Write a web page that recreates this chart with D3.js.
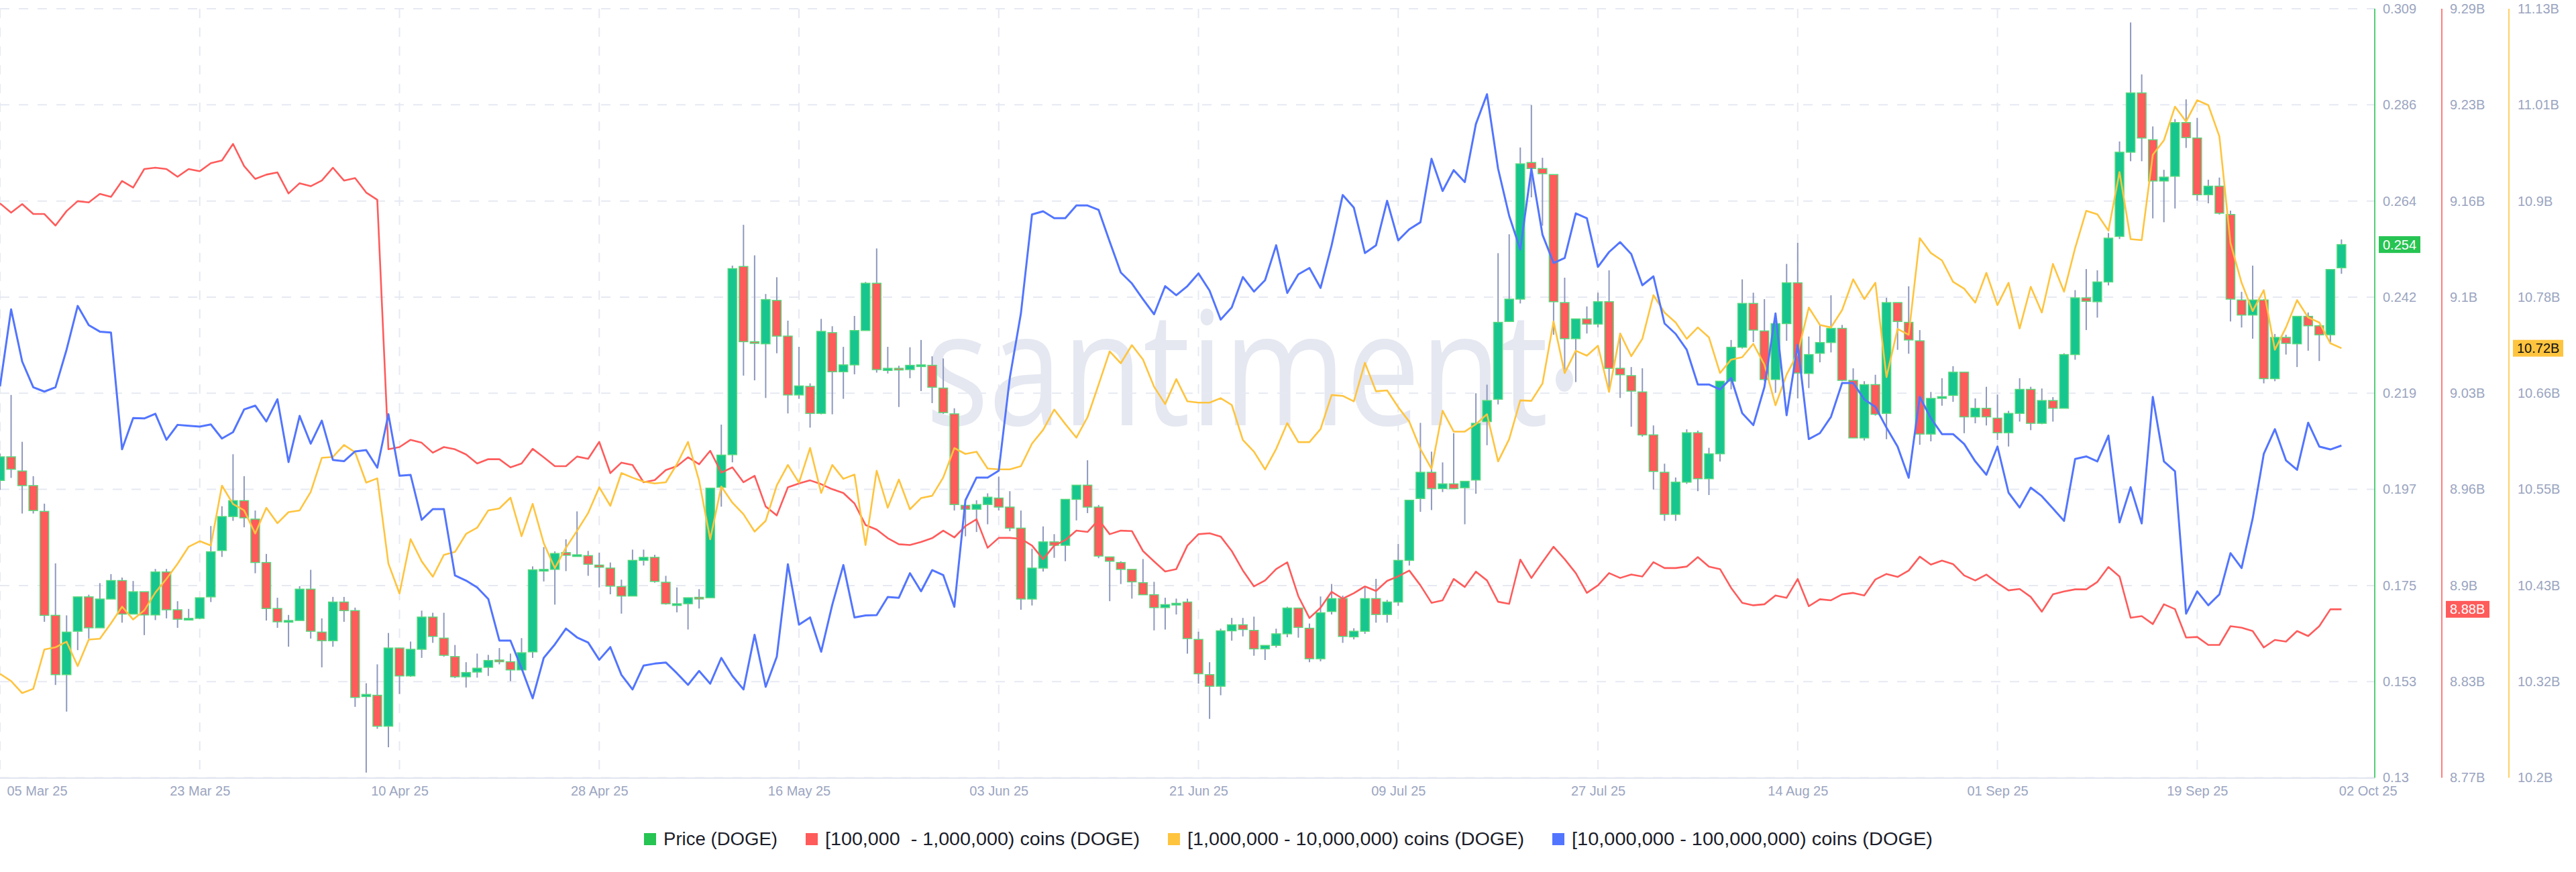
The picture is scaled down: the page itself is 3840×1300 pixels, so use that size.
<!DOCTYPE html>
<html><head><meta charset="utf-8">
<script src="https://cdn.jsdelivr.net/npm/d3@7"></script>
<style>html,body{margin:0;padding:0;background:#fff;} svg{display:block;}</style>
</head><body>
<svg id="chart" width="3840" height="1300"></svg>
<script>
// ---------------- DATA ----------------
const startDate = "2025-03-05"; // one daily candle / point per day from here

const priceOpen = [
0.1992,0.2047,0.2014,0.1980,0.1920,0.1678,0.1540,0.1641,0.1721,0.1649,
0.1716,0.1759,0.1681,0.1733,0.1679,0.1779,0.1691,0.1669,0.1671,0.1721,
0.1829,0.1908,0.1945,0.1902,0.1801,0.1694,0.1663,0.1666,0.1739,0.1639,
0.1619,0.1709,0.1689,0.1489,0.1492,0.1420,0.1602,0.1537,0.1599,0.1674,
0.1625,0.1582,0.1535,0.1546,0.1557,0.1574,0.1570,0.1551,0.1593,0.1784,
0.1785,0.1824,0.1818,0.1817,0.1795,0.1788,0.1745,0.1723,0.1806,0.1813,
0.1755,0.1704,0.1705,0.1720,0.1719,0.1976,0.2052,0.2490,0.2315,0.2310,
0.2411,0.2328,0.2191,0.2211,0.2148,0.2336,0.2245,0.2261,0.2341,0.2451,
0.2248,0.2253,0.2250,0.2260,0.2260,0.2207,0.2147,0.1934,0.1925,0.1936,
0.1951,0.1930,0.1881,0.1716,0.1788,0.1849,0.1841,0.1948,0.1981,0.1930,
0.1814,0.1801,0.1785,0.1754,0.1726,0.1696,0.1705,0.1709,0.1622,0.1540,
0.1513,0.1642,0.1656,0.1643,0.1600,0.1608,0.1635,0.1695,0.1648,0.1577,
0.1687,0.1717,0.1628,0.1641,0.1717,0.1680,0.1709,0.1806,0.1950,0.2011,
0.1973,0.1984,0.1975,0.1993,0.2129,0.2181,0.2362,0.2414,0.2732,0.2718,
0.2704,0.2406,0.2322,0.2368,0.2356,0.2408,0.2253,0.2236,0.2198,0.2098,
0.2011,0.1913,0.1988,0.2103,0.1996,0.2054,0.2223,0.2302,0.2404,0.2340,
0.2227,0.2357,0.2452,0.2241,0.2288,0.2313,0.2346,0.2225,0.2091,0.2215,
0.2148,0.2406,0.2360,0.2317,0.2100,0.2185,0.2190,0.2244,0.2140,0.2160,
0.2137,0.2103,0.2148,0.2204,0.2125,0.2178,0.2160,0.2285,0.2417,0.2408,
0.2454,0.2560,0.2756,0.2894,0.2785,0.2689,0.2700,0.2825,0.2789,0.2657,
0.2677,0.2611,0.2412,0.2377,0.2412,0.2229,0.2325,0.2310,0.2374,0.2352,
0.2331,0.2487];

const priceHigh = [
0.2055,0.2191,0.2082,0.2002,0.1938,0.1799,0.1678,0.1721,0.1726,0.1753,
0.1774,0.1766,0.1758,0.1733,0.1786,0.1786,0.1711,0.1693,0.1719,0.1886,
0.1932,0.2053,0.2002,0.1922,0.1821,0.1719,0.1679,0.1746,0.1784,0.1671,
0.1721,0.1721,0.1696,0.1520,0.1564,0.1637,0.1602,0.1617,0.1689,0.1684,
0.1684,0.1609,0.1569,0.1589,0.1586,0.1602,0.1589,0.1625,0.1792,0.1837,
0.1827,0.1855,0.1920,0.1828,0.1824,0.1801,0.1761,0.1831,0.1831,0.1819,
0.1770,0.1743,0.1719,0.1739,0.1974,0.2122,0.2492,0.2587,0.2516,0.2426,
0.2465,0.2364,0.2303,0.2218,0.2368,0.2351,0.2303,0.2375,0.2454,0.2532,
0.2303,0.2259,0.2302,0.2319,0.2281,0.2276,0.2160,0.1934,0.1946,0.1962,
0.2001,0.1967,0.1922,0.1833,0.1885,0.1867,0.1948,0.1981,0.2039,0.1935,
0.1814,0.1804,0.1785,0.1809,0.1756,0.1719,0.1717,0.1717,0.1640,0.1569,
0.1647,0.1672,0.1672,0.1675,0.1608,0.1647,0.1698,0.1695,0.1659,0.1722,
0.1751,0.1724,0.1648,0.1745,0.1763,0.1714,0.1844,0.1946,0.2126,0.2059,
0.2034,0.2102,0.1990,0.2195,0.2215,0.2521,0.2565,0.2767,0.2866,0.2743,
0.2704,0.2464,0.2368,0.2397,0.2429,0.2481,0.2325,0.2256,0.2253,0.2120,
0.2031,0.1999,0.2111,0.2108,0.2068,0.2223,0.2319,0.2460,0.2429,0.2414,
0.2383,0.2496,0.2545,0.2327,0.2354,0.2423,0.2354,0.2253,0.2223,0.2238,
0.2417,0.2406,0.2444,0.2342,0.2198,0.2230,0.2258,0.2244,0.2183,0.2210,
0.2192,0.2154,0.2230,0.2210,0.2206,0.2186,0.2288,0.2435,0.2484,0.2481,
0.2568,0.2781,0.3058,0.2937,0.2816,0.2715,0.2833,0.2879,0.2836,0.2692,
0.2697,0.2620,0.2431,0.2492,0.2414,0.2333,0.2331,0.2374,0.2383,0.2354,
0.2483,0.2553];

const priceLow = [
0.1970,0.1998,0.1915,0.1915,0.1663,0.1516,0.1454,0.1597,0.1624,0.1649,
0.1716,0.1661,0.1681,0.1632,0.1667,0.1671,0.1649,0.1668,0.1669,0.1709,
0.1814,0.1898,0.1883,0.1776,0.1666,0.1649,0.1605,0.1666,0.1624,0.1557,
0.1605,0.1663,0.1465,0.1312,0.1414,0.1371,0.1495,0.1535,0.1579,0.1614,
0.1582,0.1532,0.1510,0.1533,0.1537,0.1564,0.1525,0.1551,0.1579,0.1757,
0.1703,0.1781,0.1815,0.1770,0.1743,0.1727,0.1682,0.1723,0.1794,0.1754,
0.1703,0.1685,0.1645,0.1694,0.1719,0.1931,0.2034,0.2236,0.2225,0.2184,
0.2288,0.2148,0.2182,0.2115,0.2146,0.2146,0.2182,0.2239,0.2341,0.2243,
0.2241,0.2163,0.2230,0.2200,0.2172,0.2147,0.1922,0.1862,0.1872,0.1890,
0.1922,0.1874,0.1691,0.1701,0.1780,0.1812,0.1804,0.1899,0.1916,0.1811,
0.1711,0.1751,0.1717,0.1726,0.1643,0.1645,0.1680,0.1589,0.1519,0.1437,
0.1492,0.1619,0.1629,0.1584,0.1574,0.1603,0.1627,0.1626,0.1569,0.1571,
0.1680,0.1614,0.1622,0.1635,0.1661,0.1661,0.1700,0.1794,0.1919,0.1923,
0.1965,0.1973,0.1890,0.1961,0.2074,0.2169,0.2362,0.2404,0.2651,0.2585,
0.2331,0.2250,0.2221,0.2334,0.2348,0.2198,0.2184,0.2117,0.2094,0.1971,
0.1898,0.1898,0.1984,0.1967,0.1958,0.2036,0.2204,0.2299,0.2314,0.2223,
0.2196,0.2317,0.2183,0.2207,0.2267,0.2290,0.2223,0.2091,0.2085,0.2143,
0.2088,0.2296,0.2287,0.2075,0.2083,0.2166,0.2175,0.2102,0.2125,0.2120,
0.2086,0.2071,0.2129,0.2109,0.2123,0.2129,0.2160,0.2273,0.2342,0.2371,
0.2446,0.2554,0.2735,0.2735,0.2602,0.2593,0.2625,0.2766,0.2643,0.2637,
0.2611,0.2362,0.2348,0.2322,0.2218,0.2223,0.2285,0.2256,0.2294,0.2270,
0.2314,0.2473];

const priceClose = [
0.2047,0.2018,0.1980,0.1922,0.1678,0.1540,0.1639,0.1721,0.1649,0.1716,
0.1759,0.1681,0.1733,0.1679,0.1779,0.1691,0.1669,0.1671,0.1719,0.1826,
0.1908,0.1945,0.1905,0.1801,0.1694,0.1663,0.1666,0.1739,0.1641,0.1619,
0.1709,0.1689,0.1487,0.1494,0.1420,0.1602,0.1537,0.1599,0.1674,0.1629,
0.1585,0.1535,0.1545,0.1555,0.1573,0.1572,0.1551,0.1591,0.1784,0.1785,
0.1822,0.1818,0.1819,0.1797,0.1790,0.1746,0.1723,0.1806,0.1813,0.1757,
0.1705,0.1705,0.1719,0.1718,0.1974,0.2051,0.2485,0.2315,0.2312,0.2413,
0.2328,0.2191,0.2212,0.2148,0.2339,0.2245,0.2261,0.2341,0.2451,0.2250,
0.2253,0.2252,0.2260,0.2261,0.2209,0.2150,0.1936,0.1925,0.1936,0.1953,
0.1930,0.1881,0.1716,0.1788,0.1849,0.1841,0.1948,0.1981,0.1930,0.1816,
0.1804,0.1785,0.1756,0.1726,0.1696,0.1703,0.1706,0.1624,0.1542,0.1513,
0.1642,0.1656,0.1645,0.1600,0.1608,0.1635,0.1695,0.1650,0.1577,0.1684,
0.1717,0.1629,0.1641,0.1717,0.1680,0.1709,0.1806,0.1946,0.2011,0.1973,
0.1984,0.1973,0.1990,0.2125,0.2178,0.2360,0.2414,0.2729,0.2718,0.2706,
0.2408,0.2322,0.2368,0.2356,0.2408,0.2253,0.2238,0.2200,0.2098,0.2013,
0.1913,0.1988,0.2103,0.1996,0.2054,0.2223,0.2302,0.2404,0.2342,0.2227,
0.2357,0.2452,0.2242,0.2285,0.2313,0.2346,0.2225,0.2091,0.2215,0.2146,
0.2406,0.2362,0.2319,0.2100,0.2183,0.2187,0.2244,0.2140,0.2160,0.2140,
0.2103,0.2148,0.2204,0.2125,0.2178,0.2160,0.2285,0.2417,0.2409,0.2454,
0.2556,0.2756,0.2894,0.2789,0.2689,0.2698,0.2825,0.2790,0.2657,0.2677,
0.2614,0.2414,0.2377,0.2412,0.2229,0.2325,0.2311,0.2374,0.2352,0.2331,
0.2483,0.2541];

// [100,000 - 1,000,000) coins supply, billions
const holders100k = [
9.1584,9.1521,9.1579,9.1512,9.1512,9.1434,9.1532,9.1599,9.1590,9.1648,
9.1628,9.1735,9.1691,9.1816,9.1825,9.1816,9.1764,9.1816,9.1801,9.1856,
9.1874,9.1986,9.1836,9.1749,9.1778,9.1793,9.1651,9.1720,9.1700,9.1738,
9.1825,9.1738,9.1755,9.1657,9.1608,8.9921,8.9936,8.9985,8.9965,8.9898,
8.9936,8.9921,8.9886,8.9825,8.9854,8.9854,8.9799,8.9825,8.9924,8.9867,
8.9807,8.9807,8.9872,8.9857,8.9971,8.9760,8.9831,8.9815,8.9698,8.9713,
8.9781,8.9807,8.9867,8.9820,8.9911,8.9763,8.9799,8.9698,8.9742,8.9534,
8.9474,8.9664,8.9690,8.9711,8.9685,8.9651,8.9625,8.9555,8.9409,8.9378,
8.9320,8.9279,8.9274,8.9294,8.9320,8.9371,8.9325,8.9402,8.9448,8.9255,
8.9322,8.9322,8.9316,8.9270,8.9178,8.9270,8.9307,8.9371,8.9362,8.9445,
8.9347,8.9371,8.9368,8.9233,8.9163,8.9095,8.9111,8.9270,8.9347,8.9353,
8.9331,8.9233,8.9102,8.8994,8.9034,8.9111,8.9157,8.8927,8.8780,8.8850,
8.8957,8.8911,8.8948,8.8994,8.8963,8.9031,8.9062,8.9101,8.9001,8.8883,
8.8900,8.9044,8.8990,8.9094,8.9034,8.8890,8.8876,8.9175,8.9051,8.9158,
8.9262,8.9178,8.9084,8.8950,8.9001,8.9084,8.9051,8.9074,8.9061,8.9158,
8.9118,8.9118,8.9128,8.9192,8.9128,8.9111,8.8984,8.8883,8.8866,8.8873,
8.8933,8.8917,8.9044,8.8860,8.8907,8.8900,8.8940,8.8950,8.8933,8.9041,
8.9078,8.9058,8.9101,8.9195,8.9141,8.9168,8.9145,8.9068,8.9034,8.9074,
8.9017,8.8967,8.8977,8.8923,8.8823,8.8940,8.8960,8.8974,8.8974,8.9024,
8.9125,8.9061,8.8782,8.8793,8.8739,8.8873,8.8840,8.8648,8.8652,8.8598,
8.8598,8.8725,8.8715,8.8692,8.8581,8.8632,8.8621,8.8692,8.8658,8.8725,
8.8839,8.8839];

// [1,000,000 - 10,000,000) coins supply, billions
const holders1m = [
10.3257,10.3169,10.3024,10.3076,10.3552,10.3578,10.3645,10.3350,10.3671,10.3681,
10.3868,10.4069,10.3914,10.4023,10.4240,10.4405,10.4587,10.4794,10.4861,10.4809,
10.5533,10.5311,10.5233,10.4954,10.5264,10.5078,10.5212,10.5233,10.5456,10.5869,
10.5880,10.6024,10.5936,10.5569,10.5621,10.4591,10.4229,10.4886,10.4617,10.4431,
10.4695,10.4731,10.4949,10.5024,10.5233,10.5257,10.5387,10.4921,10.5312,10.4837,
10.4535,10.4781,10.4986,10.5201,10.5513,10.5289,10.5685,10.5629,10.5582,10.5559,
10.5573,10.5792,10.6062,10.5592,10.4884,10.5522,10.5326,10.5187,10.4977,10.5107,
10.5536,10.5783,10.5568,10.5988,10.5443,10.5783,10.5615,10.5666,10.4814,10.5713,
10.5266,10.5606,10.5247,10.5382,10.5410,10.5631,10.5987,10.5916,10.5943,10.5740,
10.5729,10.5729,10.5768,10.6042,10.6207,10.6453,10.6278,10.6113,10.6360,10.6755,
10.7156,10.7013,10.7232,10.7057,10.6728,10.6519,10.6821,10.6552,10.6536,10.6536,
10.6590,10.6508,10.6086,10.5943,10.5729,10.5976,10.6289,10.6059,10.6059,10.6217,
10.6629,10.6618,10.6552,10.7018,10.6673,10.6684,10.6481,10.6306,10.5976,10.5736,
10.6438,10.6186,10.6186,10.6276,10.6396,10.5826,10.6096,10.6564,10.6558,10.6768,
10.7518,10.6894,10.7164,10.7104,10.7224,10.6666,10.7374,10.7098,10.7308,10.7836,
10.7626,10.7506,10.7308,10.7446,10.7326,10.6894,10.7056,10.7086,10.7248,10.6996,
10.6504,10.6876,10.7134,10.7686,10.7476,10.7446,10.7656,10.8028,10.7788,10.7986,
10.6846,10.7428,10.7356,10.8526,10.8346,10.8256,10.7998,10.7914,10.7746,10.8106,
10.7716,10.7986,10.7434,10.7938,10.7626,10.8214,10.7878,10.8406,10.8856,10.8814,
10.8616,10.9324,10.8514,10.8502,10.9534,10.9708,11.0116,10.9936,11.0194,11.0134,
10.9756,10.8466,10.7986,10.7644,10.7896,10.7176,10.7446,10.7776,10.7566,10.7506,
10.7254,10.7194];

// [10,000,000 - 100,000,000) coins supply, billions (no axis shown)
const holders10m = [
27.5089,27.6090,27.5412,27.5078,27.5022,27.5078,27.5567,27.6135,27.5885,27.5801,
27.5790,27.4271,27.4678,27.4672,27.4733,27.4394,27.4589,27.4577,27.4566,27.4594,
27.4411,27.4494,27.4789,27.4839,27.4633,27.4922,27.4105,27.4705,27.4344,27.4644,
27.4133,27.4116,27.4244,27.4260,27.4032,27.4728,27.3927,27.3938,27.3354,27.3493,
27.3493,27.2630,27.2564,27.2475,27.2325,27.1784,27.1784,27.1424,27.1033,27.1559,
27.1734,27.1940,27.1825,27.1759,27.1534,27.1699,27.1338,27.1148,27.1459,27.1484,
27.1499,27.1359,27.1208,27.1389,27.1223,27.1559,27.1323,27.1148,27.1859,27.1183,
27.1574,27.2776,27.1990,27.2085,27.1639,27.2250,27.2766,27.2085,27.2110,27.2115,
27.2350,27.2340,27.2660,27.2425,27.2700,27.2636,27.2223,27.3609,27.3904,27.3904,
27.3992,27.5202,27.6039,27.7325,27.7366,27.7277,27.7277,27.7442,27.7442,27.7384,
27.6971,27.6570,27.6428,27.6222,27.6027,27.6393,27.6275,27.6393,27.6558,27.6334,
27.5957,27.6116,27.6511,27.6322,27.6470,27.6924,27.6304,27.6546,27.6629,27.6369,
27.6924,27.7578,27.7413,27.6823,27.6924,27.7502,27.6988,27.7133,27.7223,27.8049,
27.7630,27.7901,27.7746,27.8501,27.8888,27.7920,27.7307,27.6868,27.7920,27.7062,
27.6694,27.6759,27.7339,27.7275,27.6643,27.6836,27.6965,27.6810,27.6404,27.6520,
27.5907,27.5772,27.5565,27.5114,27.5114,27.5049,27.5198,27.4740,27.4585,27.5081,
27.6036,27.4714,27.5630,27.4404,27.4481,27.4694,27.5133,27.5133,27.4920,27.4823,
27.4552,27.4307,27.3901,27.4952,27.4675,27.4469,27.4469,27.4340,27.4114,27.3940,
27.4307,27.3707,27.3514,27.3772,27.3662,27.3501,27.3340,27.4146,27.4178,27.4114,
27.4449,27.3320,27.3778,27.3307,27.4952,27.4114,27.3985,27.2133,27.2424,27.2243,
27.2385,27.2920,27.2727,27.3372,27.4211,27.4533,27.4127,27.4004,27.4617,27.4307,
27.4269,27.4320];

const xTickDates = ["2025-03-05","2025-03-23","2025-04-10","2025-04-28","2025-05-16","2025-06-03",
  "2025-06-21","2025-07-09","2025-07-27","2025-08-14","2025-09-01","2025-09-19","2025-10-02"];
const priceTickLabels = ["0.13","0.153","0.175","0.197","0.219","0.242","0.264","0.286","0.309"];
const redTickLabels = ["8.77B","8.83B","8.9B","8.96B","9.03B","9.1B","9.16B","9.23B","9.29B"];
const yellowTickLabels = ["10.2B","10.32B","10.43B","10.55B","10.66B","10.78B","10.9B","11.01B","11.13B"];
const priceDomain = [0.13, 0.309];
const redDomain = [8.77, 9.29];
const yellowDomain = [10.2, 11.13];
const blueDomain = [27.0, 28.0];
const legendLabels = ["Price (DOGE)", "[100,000\u00a0\u00a0- 1,000,000) coins (DOGE)",
  "[1,000,000 - 10,000,000) coins (DOGE)", "[10,000,000 - 100,000,000) coins (DOGE)"];

// ---------------- STYLE ----------------
const C = {
  up: "#16c68e", down: "#ff5b5b", border: "#57d97c", wick: "#8e98bd",
  red: "#ff5b5b", yellow: "#ffc43e", blue: "#5275ff", green: "#26c452",
  grid: "#e6e9f2", tick: "#9ba5bf", legendText: "#1b1d2a", watermark: "#e5e8f1"
};
const FONT = "'Liberation Sans', Arial, Helvetica, sans-serif";
const plotL = 0, plotR = 3540, plotT = 13, plotB = 1159.5;

const svg = d3.select("#chart");
const parse = d3.utcParse("%Y-%m-%d");
const t0 = parse(startDate);
const dates = priceClose.map((_, i) => d3.utcDay.offset(t0, i));

const x = d3.scaleUtc().domain([t0, d3.utcDay.offset(t0, 214)]).range([plotL, plotR]);
const yP = d3.scaleLinear().domain(priceDomain).range([plotB, plotT]);
const yR = d3.scaleLinear().domain(redDomain).range([plotB, plotT]);
const yY = d3.scaleLinear().domain(yellowDomain).range([plotB, plotT]);
const yB = d3.scaleLinear().domain(blueDomain).range([plotB, plotT]);

const evenTicks = (dom, n) => d3.range(n).map(i => dom[0] + i * (dom[1] - dom[0]) / (n - 1));
const pTicks = evenTicks(priceDomain, priceTickLabels.length);

// watermark
const wm = svg.append("g");
wm.append("text").attr("x", 1380).attr("y", 634)
  .attr("font-family", "'Open Sans', 'Noto Sans', sans-serif").attr("font-size", 237)
  .attr("textLength", 928).attr("lengthAdjust", "spacingAndGlyphs")
  .attr("fill", C.watermark).text("santiment");
wm.append("ellipse").attr("cx", 2332).attr("cy", 566).attr("rx", 13).attr("ry", 18).attr("fill", C.watermark);

// grid
const grid = svg.append("g");
grid.selectAll("line.h").data(pTicks).join("line")
  .attr("x1", plotL).attr("x2", plotR).attr("y1", d => yP(d)).attr("y2", d => yP(d))
  .attr("stroke", C.grid).attr("stroke-width", 2).attr("stroke-dasharray", "14 14");
grid.selectAll("line.v").data(xTickDates.slice(0, -1).map(parse)).join("line")
  .attr("x1", d => x(d)).attr("x2", d => x(d)).attr("y1", plotT).attr("y2", plotB)
  .attr("stroke", C.grid).attr("stroke-width", 2).attr("stroke-dasharray", "14 14");
svg.append("line").attr("x1", plotL).attr("x2", plotR).attr("y1", 1160).attr("y2", 1160)
  .attr("stroke", "#e1e5ef").attr("stroke-width", 2);

// candles
const candles = svg.append("g");
const idx = d3.range(priceClose.length);
candles.selectAll("line.wick").data(idx).join("line")
  .attr("x1", i => x(dates[i])).attr("x2", i => x(dates[i]))
  .attr("y1", i => yP(priceHigh[i])).attr("y2", i => yP(priceLow[i]))
  .attr("stroke", C.wick).attr("stroke-width", 2);
const bw = 13;
candles.selectAll("rect.body").data(idx).join("rect")
  .attr("x", i => x(dates[i]) - bw / 2).attr("width", bw)
  .attr("y", i => Math.min(yP(priceOpen[i]), yP(priceClose[i])))
  .attr("height", i => Math.max(2.5, Math.abs(yP(priceOpen[i]) - yP(priceClose[i]))))
  .attr("fill", i => priceClose[i] >= priceOpen[i] ? C.up : C.down)
  .attr("stroke", C.border).attr("stroke-width", 1.5);

// lines
const mkLine = (arr, ys) => d3.line().x((d, i) => x(dates[i])).y(d => ys(d))(arr);
svg.append("path").attr("d", mkLine(holders100k, yR)).attr("fill", "none")
  .attr("stroke", C.red).attr("stroke-width", 2.6).attr("stroke-linejoin", "round");
svg.append("path").attr("d", mkLine(holders1m, yY)).attr("fill", "none")
  .attr("stroke", C.yellow).attr("stroke-width", 2.6).attr("stroke-linejoin", "round");
svg.append("path").attr("d", mkLine(holders10m, yB)).attr("fill", "none")
  .attr("stroke", C.blue).attr("stroke-width", 3).attr("stroke-linejoin", "round");

// x axis
const xAxis = svg.append("g").attr("transform", `translate(0,1160)`)
  .call(d3.axisBottom(x).tickValues(xTickDates.map(parse)).tickFormat(d3.utcFormat("%d %b %y"))
    .tickSize(0).tickPadding(12));
xAxis.select(".domain").remove();
xAxis.selectAll("text").attr("fill", C.tick).attr("font-size", 20).attr("font-family", FONT);
const xt = xAxis.selectAll(".tick text").nodes();
d3.select(xt[0]).attr("text-anchor", "start").attr("x", 10);
d3.select(xt[xt.length - 1]).attr("text-anchor", "start").attr("x", -4);

// right axes
function rightAxis(xPos, scale, dom, labels, color, pad) {
  const g = svg.append("g").attr("transform", `translate(${xPos},0)`)
    .call(d3.axisRight(scale).tickValues(evenTicks(dom, labels.length))
      .tickFormat((d, i) => labels[i]).tickSize(0).tickPadding(pad));
  g.select(".domain").remove();
  g.selectAll("text").attr("fill", C.tick).attr("font-size", 20).attr("font-family", FONT);
  g.append("line").attr("x1", 0).attr("x2", 0).attr("y1", plotT).attr("y2", plotB)
    .attr("stroke", color).attr("stroke-width", 1.6);
  return g;
}
rightAxis(3540, yP, priceDomain, priceTickLabels, C.green, 12);
rightAxis(3640, yR, redDomain, redTickLabels, C.red, 12);
rightAxis(3740, yY, yellowDomain, yellowTickLabels, C.yellow, 13);

// last-value badges
function badge(xPos, yPos, w, fill, txt, tcol) {
  svg.append("rect").attr("x", xPos).attr("y", yPos - 12.5).attr("width", w).attr("height", 25).attr("fill", fill);
  svg.append("text").attr("x", xPos + 6).attr("y", yPos).attr("dy", "0.35em")
    .attr("font-family", FONT).attr("font-size", 20).attr("fill", tcol).text(txt);
}
const last = priceClose.length - 1;
badge(3546, yP(priceClose[last]), 62, C.green, d3.format(".3f")(priceClose[last]), "#fff");
badge(3646, yR(holders100k[last]), 65, C.red, holders100k[last].toFixed(2) + "B", "#fff");
badge(3746, yY(holders1m[last]), 75, C.yellow, holders1m[last].toFixed(2) + "B", "#111");

// legend
const legColors = [C.green, C.red, C.yellow, C.blue];
const legWidths = [170, 469, 502, 538];
const leg = svg.append("g");
let lx = 960;
legendLabels.forEach((lab, i) => {
  leg.append("rect").attr("x", lx).attr("y", 1242).attr("width", 18).attr("height", 18).attr("fill", legColors[i]);
  leg.append("text").attr("x", lx + 29).attr("y", 1251).attr("dy", "0.35em")
    .attr("font-family", FONT).attr("font-size", 27).attr("fill", C.legendText)
    .attr("textLength", legWidths[i]).attr("lengthAdjust", "spacingAndGlyphs").text(lab);
  lx += 29 + legWidths[i] + 42;
});
</script>
</body></html>
